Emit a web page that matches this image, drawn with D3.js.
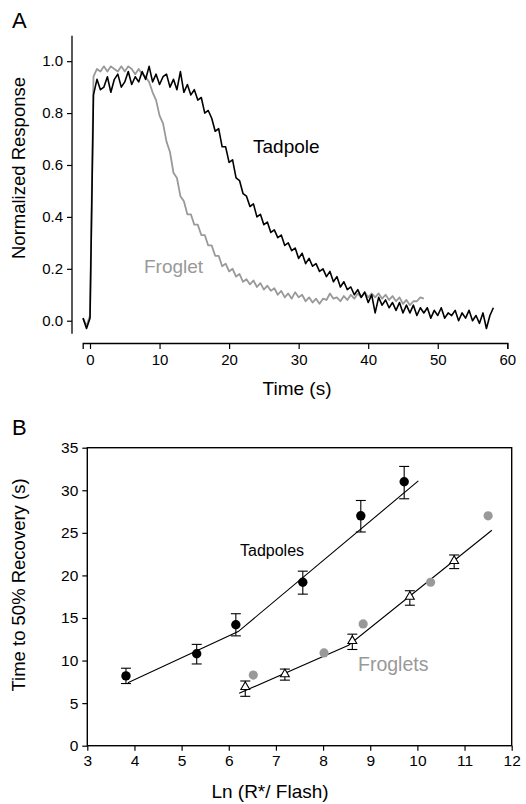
<!DOCTYPE html>
<html>
<head>
<meta charset="utf-8">
<script src="https://cdn.jsdelivr.net/npm/d3@7"></script>
<style>
html,body{margin:0;padding:0;background:#fff;}
svg{display:block;font-family:"Liberation Sans",Arial,Helvetica,sans-serif;}
</style>
</head>
<body>
<svg id="chart" width="526" height="804"></svg>
<script>
// ---------- Panel A data (time series, sampled every 0.5 s starting at -1 s) ----------
const traceStart = -1;
const traceStep = 0.5;
const tadpoleResponse = [
  0.01,-0.03,0.01,                                          // -1 .. 0
  0.87,0.93,0.89,0.90,0.94,0.88,0.93,0.95,0.90,0.92,        // 0.5 .. 5
  0.96,0.91,0.94,0.92,0.96,0.93,0.98,0.92,0.95,0.91,        // 5.5 .. 10
  0.94,0.95,0.90,0.93,0.89,0.96,0.88,0.91,0.87,0.89,        // 10.5 .. 15
  0.85,0.86,0.80,0.81,0.78,0.73,0.74,0.67,0.67,0.61,        // 15.5 .. 20
  0.62,0.55,0.54,0.49,0.48,0.44,0.45,0.40,0.41,0.37,        // 20.5 .. 25
  0.38,0.34,0.35,0.32,0.33,0.29,0.30,0.27,0.28,0.24,        // 25.5 .. 30
  0.26,0.22,0.24,0.21,0.22,0.19,0.20,0.17,0.19,0.15,        // 30.5 .. 35
  0.17,0.13,0.15,0.12,0.13,0.10,0.12,0.09,0.11,0.07,        // 35.5 .. 40
  0.10,0.03,0.09,0.06,0.08,0.05,0.07,0.04,0.07,0.03,        // 40.5 .. 45
  0.06,0.03,0.06,0.02,0.05,0.03,0.05,0.01,0.04,0.02,        // 45.5 .. 50
  0.05,0.01,0.03,0.02,0.04,0.00,0.03,0.01,0.04,0.00,        // 50.5 .. 55
  0.02,-0.01,0.03,-0.03,0.02,0.05                           // 55.5 .. 58
];
const frogletResponse = [
  0.01,-0.02,0.02,                                          // -1 .. 0
  0.94,0.97,0.96,0.98,0.96,0.98,0.97,0.96,0.98,0.96,        // 0.5 .. 5
  0.98,0.97,0.95,0.97,0.95,0.94,0.92,0.88,0.85,0.79,        // 5.5 .. 10
  0.76,0.69,0.65,0.57,0.55,0.48,0.46,0.41,0.41,0.37,        // 10.5 .. 15
  0.37,0.33,0.33,0.29,0.29,0.25,0.25,0.21,0.22,0.19,        // 15.5 .. 20
  0.20,0.17,0.18,0.15,0.16,0.14,0.155,0.13,0.145,0.12,      // 20.5 .. 25
  0.135,0.115,0.125,0.10,0.115,0.09,0.105,0.085,0.11,0.09,  // 25.5 .. 30
  0.10,0.075,0.09,0.07,0.085,0.065,0.085,0.08,0.105,0.085,  // 30.5 .. 35
  0.09,0.075,0.095,0.08,0.10,0.085,0.105,0.09,0.11,0.09,    // 35.5 .. 40
  0.105,0.09,0.105,0.085,0.10,0.08,0.095,0.075,0.09,0.065,  // 40.5 .. 45
  0.08,0.06,0.075,0.075,0.09,0.085                          // 45.5 .. 48
];
const aXTicks = [0,10,20,30,40,50,60];
const aYTicks = [0.0,0.2,0.4,0.6,0.8,1.0];

// ---------- Panel B data ----------
const tadX    = [3.82, 5.32, 6.15, 7.57, 8.80, 9.72];
const tadY    = [8.2, 10.8, 14.2, 19.2, 27.0, 31.0];
const tadErrHi= [9.1, 11.9, 15.5, 20.5, 28.8, 32.8];
const tadErrLo= [7.3, 9.6, 12.9, 17.8, 25.1, 29.0];

const frogTriX    = [6.35, 7.19, 8.62, 9.84, 10.78];
const frogTriY    = [6.9, 8.4, 12.3, 17.5, 21.7];
const frogTriErrHi= [7.6, 9.0, 13.1, 18.2, 22.4];
const frogTriErrLo= [5.8, 7.7, 11.3, 16.5, 20.8];

const frogDotX = [6.52, 8.02, 8.85, 10.28, 11.50];
const frogDotY = [8.3, 10.9, 14.3, 19.2, 27.0];

const tadFitX  = [3.86, 6.20, 10.02];
const tadFitY  = [7.4, 13.4, 31.1];
const frogFitX = [6.22, 8.54, 11.58];
const frogFitY = [6.15, 11.8, 25.3];

const bXTicks = [3,4,5,6,7,8,9,10,11,12];
const bYTicks = [0,5,10,15,20,25,30,35];

const GRAY = "#999999";

const svg = d3.select("#chart");

// ================= Panel A =================
const xA = d3.scaleLinear().domain([-1.05, 60]).range([82.7, 507.3]);
const yA = d3.scaleLinear().domain([-0.05, 1.1]).range([333.7, 35.2]);

const tadData = tadpoleResponse.map((v,i)=>({t: traceStart + i*traceStep, v}));
const frogData = frogletResponse.map((v,i)=>({t: traceStart + i*traceStep, v}));
const lineA = d3.line().x(d=>xA(d.t)).y(d=>yA(d.v));

svg.append("path").datum(frogData).attr("d", lineA)
  .attr("fill","none").attr("stroke",GRAY).attr("stroke-width",1.8).attr("stroke-linejoin","round");
svg.append("path").datum(tadData).attr("d", lineA)
  .attr("fill","none").attr("stroke","#000").attr("stroke-width",1.6).attr("stroke-linejoin","round");

// y axis (offset left of data)
const yAxisA = svg.append("g").attr("transform","translate(72,0)")
  .call(d3.axisLeft(yA).tickValues(aYTicks).tickFormat(d3.format(".1f")).tickSizeOuter(0).tickSize(5).tickPadding(4));
yAxisA.select(".domain").attr("d", `M0,${yA(1.1)+0.5}V${yA(-0.05)}`).attr("stroke-width",1.3);
yAxisA.selectAll("text").attr("font-size",15).attr("font-family","Liberation Sans, Arial, sans-serif").attr("fill","#000");
yAxisA.selectAll("line").attr("stroke-width",1.2);

// x axis (offset below)
const xAxisA = svg.append("g").attr("transform","translate(0,343)")
  .call(d3.axisBottom(xA).tickValues(aXTicks).tickSizeOuter(0).tickSize(6).tickPadding(5));
xAxisA.select(".domain").attr("stroke-width",1.3);
xAxisA.selectAll("text").attr("font-size",15).attr("font-family","Liberation Sans, Arial, sans-serif").attr("fill","#000");
xAxisA.selectAll("line").attr("stroke-width",1.2);

svg.append("text").attr("x",12).attr("y",28).attr("font-size",22).text("A");
svg.append("text").attr("x",297).attr("y",395).attr("text-anchor","middle").attr("font-size",19).text("Time (s)");
svg.append("text").attr("transform","translate(25,168) rotate(-90)").attr("text-anchor","middle").attr("font-size",18.5).text("Normalized Response");
svg.append("text").attr("x",253).attr("y",153).attr("font-size",19).text("Tadpole");
svg.append("text").attr("x",144).attr("y",273).attr("font-size",19).attr("fill",GRAY).text("Froglet");

// ================= Panel B =================
const xB = d3.scaleLinear().domain([3,12]).range([87.3, 511.7]);
const yB = d3.scaleLinear().domain([0,35]).range([745.7, 447.7]);

svg.append("rect").attr("x",xB(3)).attr("y",yB(35)).attr("width",xB(12)-xB(3)).attr("height",yB(0)-yB(35))
  .attr("fill","none").attr("stroke","#000").attr("stroke-width",1.4);

const xAxisB = svg.append("g").attr("transform",`translate(0,${yB(0)})`)
  .call(d3.axisBottom(xB).tickValues(bXTicks).tickSizeOuter(0).tickSize(5).tickPadding(4));
xAxisB.select(".domain").remove();
xAxisB.selectAll("text").attr("font-size",15.5).attr("font-family","Liberation Sans, Arial, sans-serif").attr("fill","#000");
xAxisB.selectAll("line").attr("stroke-width",1.2);

const yAxisB = svg.append("g").attr("transform",`translate(${xB(3)},0)`)
  .call(d3.axisLeft(yB).tickValues(bYTicks).tickSizeOuter(0).tickSize(5).tickPadding(4));
yAxisB.select(".domain").remove();
yAxisB.selectAll("text").attr("font-size",15.5).attr("font-family","Liberation Sans, Arial, sans-serif").attr("fill","#000");
yAxisB.selectAll("line").attr("stroke-width",1.2);

const lineB = d3.line().x(d=>xB(d[0])).y(d=>yB(d[1]));
svg.append("path").datum(d3.zip(tadFitX, tadFitY)).attr("d", lineB)
  .attr("fill","none").attr("stroke","#000").attr("stroke-width",1.1);
svg.append("path").datum(d3.zip(frogFitX, frogFitY)).attr("d", lineB)
  .attr("fill","none").attr("stroke","#000").attr("stroke-width",1.1);

function errorBars(xs, hi, lo){
  const g = svg.append("g").attr("stroke","#000").attr("stroke-width",1.1);
  xs.forEach((x,i)=>{
    const px = xB(x);
    g.append("line").attr("x1",px).attr("x2",px).attr("y1",yB(hi[i])).attr("y2",yB(lo[i]));
    g.append("line").attr("x1",px-5).attr("x2",px+5).attr("y1",yB(hi[i])).attr("y2",yB(hi[i]));
    g.append("line").attr("x1",px-5).attr("x2",px+5).attr("y1",yB(lo[i])).attr("y2",yB(lo[i]));
  });
}
errorBars(tadX, tadErrHi, tadErrLo);
errorBars(frogTriX, frogTriErrHi, frogTriErrLo);

svg.append("g").selectAll("circle").data(d3.zip(frogDotX, frogDotY)).join("circle")
  .attr("cx",d=>xB(d[0])).attr("cy",d=>yB(d[1])).attr("r",4.6).attr("fill",GRAY);

svg.append("g").selectAll("circle").data(d3.zip(tadX, tadY)).join("circle")
  .attr("cx",d=>xB(d[0])).attr("cy",d=>yB(d[1])).attr("r",4.7).attr("fill","#000");

const tri = d3.symbol().type(d3.symbolTriangle).size(34);
svg.append("g").selectAll("path").data(d3.zip(frogTriX, frogTriY)).join("path")
  .attr("d", tri).attr("transform",d=>`translate(${xB(d[0])},${yB(d[1])})`)
  .attr("fill","#fff").attr("stroke","#000").attr("stroke-width",1.1);

svg.append("text").attr("x",12).attr("y",435).attr("font-size",22).text("B");
svg.append("text").attr("x",240).attr("y",556).attr("font-size",16).text("Tadpoles");
svg.append("text").attr("x",358).attr("y",671).attr("font-size",19.5).attr("fill",GRAY).text("Froglets");
svg.append("text").attr("x",270).attr("y",798).attr("text-anchor","middle").attr("font-size",19).text("Ln (R*/ Flash)");
svg.append("text").attr("transform","translate(25,585) rotate(-90)").attr("text-anchor","middle").attr("font-size",18.5).text("Time to 50% Recovery (s)");
</script>
</body>
</html>
